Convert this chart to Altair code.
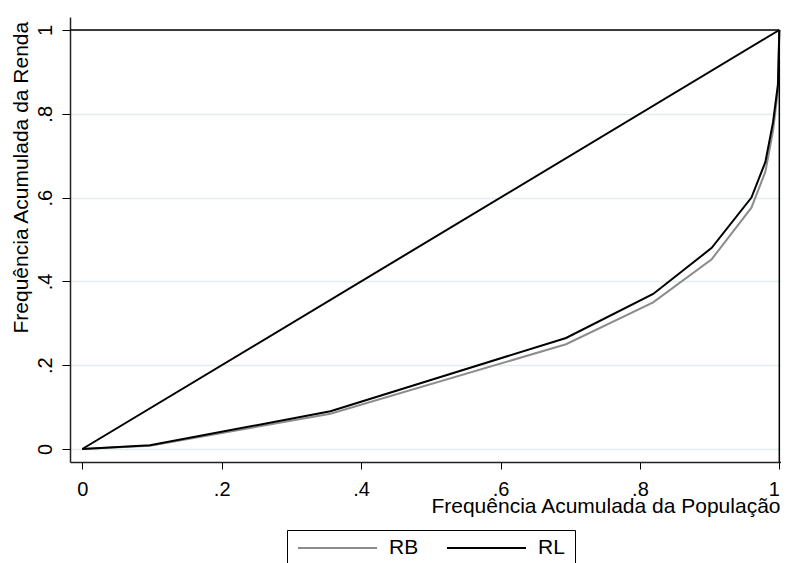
import altair as alt
import pandas as pd

# ---- data ----
pop = [0.0, 0.097, 0.356, 0.694, 0.819, 0.903, 0.960, 0.980, 0.991, 0.998, 1.0]
rl = [0.0, 0.009, 0.090, 0.265, 0.370, 0.480, 0.600, 0.685, 0.780, 0.870, 1.0]
rb = [0.0, 0.008, 0.084, 0.250, 0.350, 0.453, 0.576, 0.662, 0.760, 0.855, 1.0]
series = ["RB", "RL"]
series_colors = ["#8c8c8c", "#000000"]
equal_x = [0.0, 1.0]
equal_y = [0.0, 1.0]
tick_values = [0, 0.2, 0.4, 0.6, 0.8, 1]

X_MIN, X_MAX = -0.01765, 1.0024
Y_MIN, Y_MAX = -0.031, 1.031

FONT = "Liberation Sans"

curves = pd.DataFrame({
    "x": pop + pop,
    "y": rb + rl,
    "serie": [series[0]] * len(pop) + [series[1]] * len(pop),
})
equal = pd.DataFrame({"x": equal_x, "y": equal_y})
frame = pd.DataFrame({
    "x": [X_MIN, 1.0],
    "x2": [1.0, 1.0],
    "y": [1.0, Y_MIN],
    "y2": [1.0, 1.0],
})

xscale = alt.Scale(domain=[X_MIN, X_MAX], nice=False, zero=False)
yscale = alt.Scale(domain=[Y_MIN, Y_MAX], nice=False, zero=False)
label_expr = "replace(format(datum.value, '~g'), '0.', '.')"

x_axis = alt.Axis(
    values=tick_values, labelExpr=label_expr, grid=False,
    title="Frequência Acumulada da População",
    titleFont=FONT, titleFontSize=21, titleFontWeight="normal", titleColor="black",
    titleAlign="right", titleBaseline="alphabetic", titleX=710, titleY=50,
    labelFont=FONT, labelFontSize=20, labelColor="black",
    labelAlign={"condition": {"test": "datum.value >= 1", "value": "right"}, "value": "center"},
    labelBaseline="alphabetic", labelPadding=26,
    tickSize=7, tickColor="black", tickWidth=1,
    domainColor="#222222", domainWidth=1.5,
)
y_axis = alt.Axis(
    values=tick_values, labelExpr=label_expr, grid=True,
    gridColor="#e4ecee", gridWidth=1.5,
    title="Frequência Acumulada da Renda",
    titleFont=FONT, titleFontSize=21, titleFontWeight="normal", titleColor="black",
    titleAngle=270, titleAlign="left", titleBaseline="alphabetic", titleX=-43, titleY=316,
    labelFont=FONT, labelFontSize=20, labelColor="black",
    labelAngle=270, labelAlign="center", labelBaseline="alphabetic", labelPadding=11,
    tickSize=8, tickColor="black", tickWidth=1,
    domainColor="#222222", domainWidth=1.5,
)

X = alt.X("x:Q", scale=xscale, axis=x_axis)
Y = alt.Y("y:Q", scale=yscale, axis=y_axis)

curve_layer = alt.Chart(curves).mark_line(strokeWidth=2).encode(
    x=X,
    y=Y,
    color=alt.Color(
        "serie:N",
        scale=alt.Scale(domain=series, range=series_colors),
        legend=alt.Legend(
            title=None, orient="none", legendX=217, legendY=513,
            direction="horizontal", symbolType="stroke", symbolSize=6241,
            symbolStrokeWidth=2, clipHeight=16, labelFont=FONT, labelFontSize=21,
            labelColor="black", labelOffset=11, columnPadding=27, padding=10,
            strokeColor="black", fillColor="white", cornerRadius=0,
        ),
    ),
)

equal_layer = alt.Chart(equal).mark_line(color="black", strokeWidth=2).encode(
    x=X,
    y=Y,
)

frame_layer = alt.Chart(frame).mark_rule(color="black", strokeWidth=1.5).encode(
    x=X,
    x2="x2:Q",
    y=Y,
    y2="y2:Q",
)

chart = alt.layer(curve_layer, equal_layer, frame_layer).properties(
    width=711, height=445,
    autosize=alt.AutoSizeParams(type="none"),
    padding={"left": 62, "top": 9, "right": 0, "bottom": 101},
    background="white",
).configure_view(strokeWidth=0)

chart.save("out.html", embed_options={"renderer": "svg", "actions": False})
